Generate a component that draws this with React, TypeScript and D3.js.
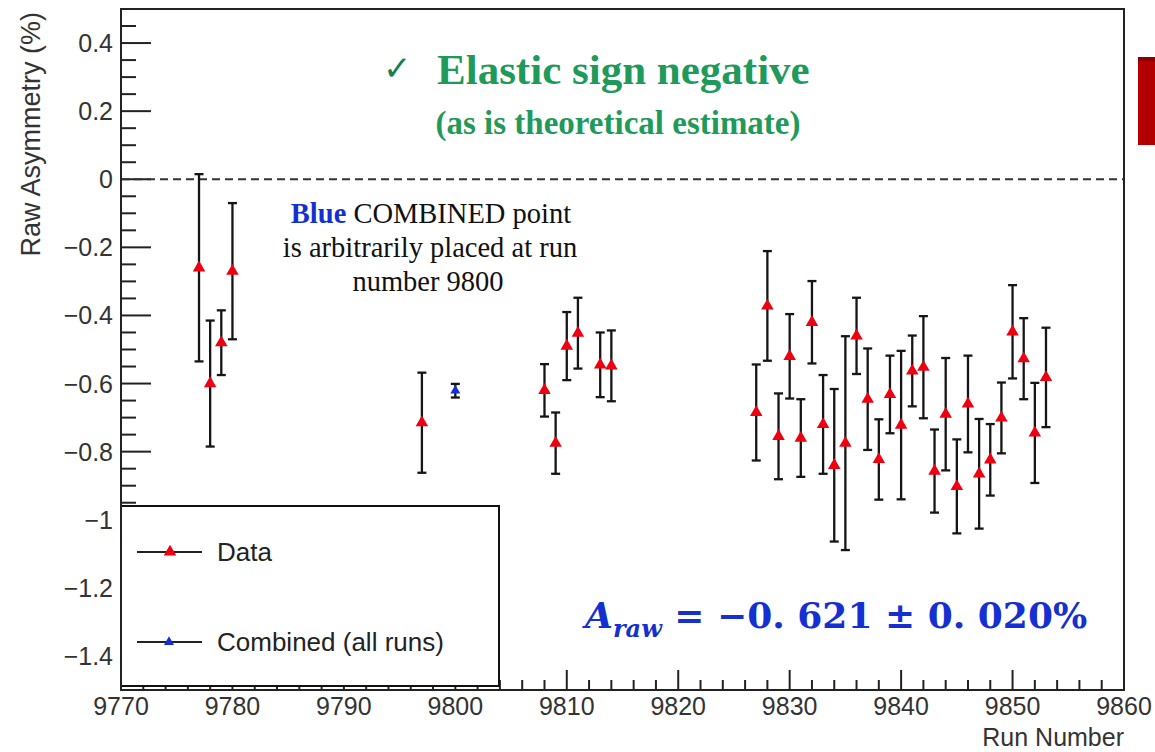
import React from "react";
import * as d3 from "d3";

// Per-run raw asymmetry (%) with statistical errors
const runs = [
  9777, 9778, 9779, 9780, 9797, 9808, 9809, 9810, 9811, 9813, 9814,
  9827, 9828, 9829, 9830, 9831, 9832, 9833, 9834, 9835, 9836, 9837,
  9838, 9839, 9840, 9841, 9842, 9843, 9844, 9845, 9846, 9847, 9848,
  9849, 9850, 9851, 9852, 9853,
];
const asym = [
  -0.26, -0.6, -0.48, -0.27, -0.715, -0.62, -0.775, -0.49, -0.452, -0.545, -0.548,
  -0.685, -0.372, -0.755, -0.52, -0.76, -0.42, -0.72, -0.84, -0.775, -0.46, -0.646,
  -0.823, -0.632, -0.722, -0.563, -0.552, -0.857, -0.69, -0.902, -0.66, -0.865, -0.824,
  -0.701, -0.448, -0.527, -0.745, -0.582,
];
const asymErr = [
  0.275, 0.185, 0.095, 0.2, 0.147, 0.077, 0.09, 0.1, 0.104, 0.095, 0.104,
  0.141, 0.161, 0.126, 0.124, 0.114, 0.121, 0.145, 0.224, 0.314, 0.112, 0.149,
  0.118, 0.114, 0.218, 0.104, 0.15, 0.122, 0.165, 0.138, 0.142, 0.161, 0.105,
  0.104, 0.137, 0.119, 0.147, 0.146,
];

// Combined result over all runs (drawn at run 9800)
const combinedRun = [9800];
const combinedAsym = [-0.621];
const combinedErr = [0.02];

const xDomain = [9770, 9860];
const yDomain = [-1.5, 0.5];

const W = 1155;
const H = 752;
const frame = { left: 121, right: 1124, top: 9, bottom: 690 };

const RED = "#ee0010";
const BLUE = "#1530d0";
const GREEN = "#1f9a5a";
const SANS = "'Liberation Sans', Arial, Helvetica, sans-serif";
const SERIF = "'Liberation Serif', 'Times New Roman', serif";

const fmtY = (v: number) => String(+v.toFixed(1)).replace("-", "\u2212");

function ErrorPoint({ x, y, cx, v, e, color, size }: any) {
  const px = x(cx);
  const yTop = y(v + e);
  const yBot = y(v - e);
  const tri = d3.symbol(d3.symbolTriangle, size)();
  return (
    <g>
      <line x1={px} x2={px} y1={yTop} y2={yBot} stroke="#151515" strokeWidth={2.3} />
      <line x1={px - 4.5} x2={px + 4.5} y1={yTop} y2={yTop} stroke="#151515" strokeWidth={2.3} />
      <line x1={px - 4.5} x2={px + 4.5} y1={yBot} y2={yBot} stroke="#151515" strokeWidth={2.3} />
      <path d={tri ?? ""} transform={`translate(${px},${y(v)})`} fill={color} />
    </g>
  );
}

export default function App() {
  const x = d3.scaleLinear().domain(xDomain).range([frame.left, frame.right]);
  const y = d3.scaleLinear().domain(yDomain).range([frame.bottom, frame.top]);

  const xMajor = x.ticks(10);
  const xMinor = x.ticks(45).filter((t) => !xMajor.includes(t));
  const yMajor = y.ticks(10);
  const yMinor = y.ticks(40).filter((t) => !yMajor.some((m) => Math.abs(m - t) < 1e-9));

  const triData = d3.symbol(d3.symbolTriangle, 68)();
  const triComb = d3.symbol(d3.symbolTriangle, 44)();

  const legend = { x: 121, y: 506, w: 378, h: 180 };
  const row1 = legend.y + legend.h / 4 + 1;
  const row2 = legend.y + (3 * legend.h) / 4 + 1;

  return (
    <svg
      width={W}
      height={H}
      viewBox={`0 0 ${W} ${H}`}
      style={{ position: "absolute", left: 0, top: 0, background: "#fff" }}
    >
      <rect x={0} y={0} width={W} height={H} fill="#fff" />

      {/* axis ticks, drawn inside the frame */}
      <g stroke="#222" strokeWidth={2}>
        {yMajor.map((t) => (
          <line key={`ym${t}`} x1={frame.left} x2={frame.left + 30} y1={y(t)} y2={y(t)} />
        ))}
        {yMinor.map((t) => (
          <line key={`yn${t}`} x1={frame.left} x2={frame.left + 15} y1={y(t)} y2={y(t)} />
        ))}
        {xMajor.map((t) => (
          <line key={`xm${t}`} x1={x(t)} x2={x(t)} y1={frame.bottom} y2={frame.bottom - 20} />
        ))}
        {xMinor.map((t) => (
          <line key={`xn${t}`} x1={x(t)} x2={x(t)} y1={frame.bottom} y2={frame.bottom - 10} />
        ))}
      </g>

      {/* zero reference */}
      <line
        x1={frame.left}
        x2={frame.right}
        y1={y(0)}
        y2={y(0)}
        stroke="#333"
        strokeWidth={2}
        strokeDasharray="8,5"
      />

      {/* per-run data */}
      {runs.map((r, i) => (
        <ErrorPoint key={r} x={x} y={y} cx={r} v={asym[i]} e={asymErr[i]} color={RED} size={68} />
      ))}
      {combinedRun.map((r, i) => (
        <ErrorPoint key={`c${r}`} x={x} y={y} cx={r} v={combinedAsym[i]} e={combinedErr[i]} color={BLUE} size={44} />
      ))}

      {/* legend */}
      <rect
        x={legend.x}
        y={legend.y}
        width={legend.w}
        height={legend.h}
        fill="#fff"
        stroke="#111"
        strokeWidth={2}
      />
      <g>
        <line x1={137} x2={202} y1={row1} y2={row1} stroke="#222" strokeWidth={2} />
        <path d={triData ?? ""} transform={`translate(170,${row1})`} fill={RED} />
        <text x={217} y={row1 + 9} fontFamily={SANS} fontSize={26} fill="#222">
          Data
        </text>
        <line x1={137} x2={202} y1={row2} y2={row2} stroke="#222" strokeWidth={2} />
        <path d={triComb ?? ""} transform={`translate(169,${row2})`} fill={BLUE} />
        <text x={217} y={row2 + 9} fontFamily={SANS} fontSize={26} fill="#222">
          Combined (all runs)
        </text>
      </g>

      {/* frame */}
      <rect
        x={frame.left}
        y={frame.top}
        width={frame.right - frame.left}
        height={frame.bottom - frame.top}
        fill="none"
        stroke="#222"
        strokeWidth={2}
      />

      {/* tick labels */}
      <g fontFamily={SANS} fontSize={25} fill="#333">
        {yMajor.map((t) => (
          <text key={`yl${t}`} x={113} y={y(t)} dy="0.36em" textAnchor="end">
            {fmtY(t)}
          </text>
        ))}
        {xMajor.map((t) => (
          <text key={`xl${t}`} x={x(t)} y={715} textAnchor="middle">
            {t}
          </text>
        ))}
      </g>

      {/* axis titles */}
      <text x={frame.right} y={746} textAnchor="end" fontFamily={SANS} fontSize={25} fill="#333">
        Run Number
      </text>
      <text
        transform={`translate(40,12) rotate(-90)`}
        textAnchor="end"
        fontFamily={SANS}
        fontSize={27}
        fill="#333"
      >
        Raw Asymmetry (%)
      </text>

      {/* annotations */}
      <text x={383} y={80} fontFamily="'DejaVu Sans', sans-serif" fontWeight="bold" fontSize={34} fill="#17804a">
        {"\u2713"}
      </text>
      <text x={437} y={84} fontFamily={SERIF} fontWeight="bold" fontSize={43} fill={GREEN}>
        Elastic sign negative
      </text>
      <text x={618} y={134} textAnchor="middle" fontFamily={SERIF} fontWeight="bold" fontSize={33} fill={GREEN}>
        (as is theoretical estimate)
      </text>

      <g fontFamily={SERIF} fontSize={28.5} fill="#111" textAnchor="middle">
        <text x={431} y={223}>
          <tspan fill={BLUE} fontWeight="bold">Blue</tspan> COMBINED point
        </text>
        <text x={430} y={257}>is arbitrarily placed at run</text>
        <text x={428} y={291}>number 9800</text>
      </g>

      <text x={585} y={628} fontFamily="'DejaVu Serif', serif" fontWeight="bold" fontSize={36} fill={BLUE}>
        <tspan fontStyle="italic">A</tspan>
        <tspan fontStyle="italic" fontSize={24} dy={9}>raw</tspan>
        <tspan dy={-9}>{" = \u22120. 621 \u00b1 0. 020%"}</tspan>
      </text>

      {/* slide accent bar */}
      <rect x={1138} y={57} width={17} height={88} fill="#b20000" />
      <rect x={1138} y={57} width={17} height={4} fill="#8c0000" />
    </svg>
  );
}
